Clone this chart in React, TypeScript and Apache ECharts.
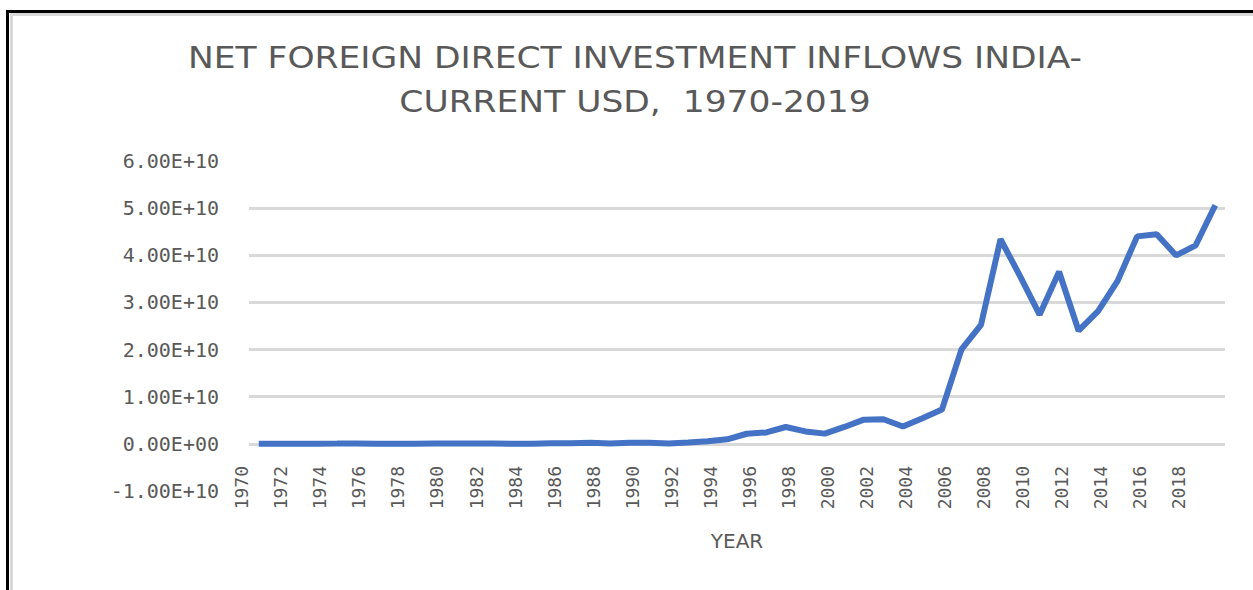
import React, { useEffect, useRef } from "react";
import * as echarts from "echarts";

const years: string[] = [
  "1970","1971","1972","1973","1974","1975","1976","1977","1978","1979",
  "1980","1981","1982","1983","1984","1985","1986","1987","1988","1989",
  "1990","1991","1992","1993","1994","1995","1996","1997","1998","1999",
  "2000","2001","2002","2003","2004","2005","2006","2007","2008","2009",
  "2010","2011","2012","2013","2014","2015","2016","2017","2018","2019",
];

// Net FDI inflows, current USD
const fdiInflows: number[] = [
  45e6, 48e6, 31e6, 42e6, 57e6, 85e6, 10e6, 17e6, 12e6, 55e6,
  79e6, 92e6, 72e6, 6e6, 19e6, 106e6, 118e6, 212e6, 91e6, 252e6,
  237e6, 74e6, 277e6, 550e6, 973e6, 2144e6, 2426e6, 3577e6, 2635e6, 2169e6,
  3584e6, 5128e6, 5209e6, 3682e6, 5429e6, 7269e6, 20029e6, 25228e6, 43406e6, 35581e6,
  27397e6, 36499e6, 23996e6, 28153e6, 34577e6, 44009e6, 44459e6, 39966e6, 42117e6, 50610e6,
];

const titleText = "NET FOREIGN DIRECT INVESTMENT INFLOWS INDIA-\nCURRENT USD,  1970-2019";
const xAxisName = "YEAR";

function fmtExp(v: number): string {
  if (v === 0) return "0.00E+00";
  const sign = v < 0 ? "-" : "";
  const a = Math.abs(v);
  let e = Math.floor(Math.log10(a));
  let m = a / Math.pow(10, e);
  if (m >= 9.995) { m /= 10; e += 1; }
  const es = (e < 0 ? "-" : "+") + String(Math.abs(e)).padStart(2, "0");
  return sign + m.toFixed(2) + "E" + es;
}

export default function App() {
  const ref = useRef<HTMLDivElement>(null);
  useEffect(() => {
    if (!ref.current) return;
    const chart = echarts.init(ref.current, undefined, { renderer: "svg" });
    chart.setOption({
      animation: false,
      backgroundColor: "#ffffff",
      grid: {
        left: 249, right: 28, top: 161, bottom: 99,
        containLabel: false,
        outerBoundsMode: "none",
      },
      graphic: [
        { type: "rect", shape: { x: 6, y: 10, width: 1247, height: 3 }, style: { fill: "#000000" } },
        { type: "rect", shape: { x: 6, y: 10, width: 3, height: 580 }, style: { fill: "#000000" } },
        { type: "rect", shape: { x: 10, y: 13, width: 1243, height: 3 }, style: { fill: "#d9d9d9" } },
        { type: "rect", shape: { x: 10, y: 13, width: 3, height: 577 }, style: { fill: "#d9d9d9" } },
        {
          type: "text",
          x: 635,
          y: 36,
          scaleX: 1.15,
          style: {
            text: titleText,
            textAlign: "center",
            textVerticalAlign: "top",
            fontFamily: "DejaVu Sans",
            fontSize: 30,
            lineHeight: 44,
            fill: "#595959",
          },
        },
      ],
      xAxis: {
        type: "category",
        data: years,
        boundaryGap: true,
        name: xAxisName,
        nameLocation: "middle",
        nameGap: 40,
        nameTextStyle: { fontFamily: "DejaVu Sans", fontSize: 20, color: "#595959" },
        axisLine: { show: false },
        axisTick: { show: false },
        axisLabel: {
          interval: 1,
          rotate: 90,
          margin: -25,
          fontFamily: "DejaVu Sans Mono",
          fontSize: 18,
          lineHeight: 34,
          verticalAlign: "bottom",
          color: "#595959",
        },
        splitLine: { show: false },
      },
      yAxis: {
        type: "value",
        min: -1e10,
        max: 6e10,
        interval: 1e10,
        axisLine: { show: false },
        axisTick: { show: false },
        axisLabel: {
          margin: 30,
          fontFamily: "DejaVu Sans Mono",
          fontSize: 20,
          color: "#595959",
          formatter: (v: number) => fmtExp(v),
        },
        splitLine: {
          show: true,
          showMinLine: false,
          showMaxLine: false,
          lineStyle: { color: "#d9d9d9", width: 3 },
        },
      },
      series: [
        {
          type: "line",
          data: fdiInflows,
          symbol: "none",
          smooth: false,
          lineStyle: { color: "#4472c4", width: 6 },
        },
      ],
    });
    return () => chart.dispose();
  }, []);
  return (
    <div
      ref={ref}
      style={{ position: "absolute", left: 0, top: 0, width: 1253, height: 590 }}
    />
  );
}
